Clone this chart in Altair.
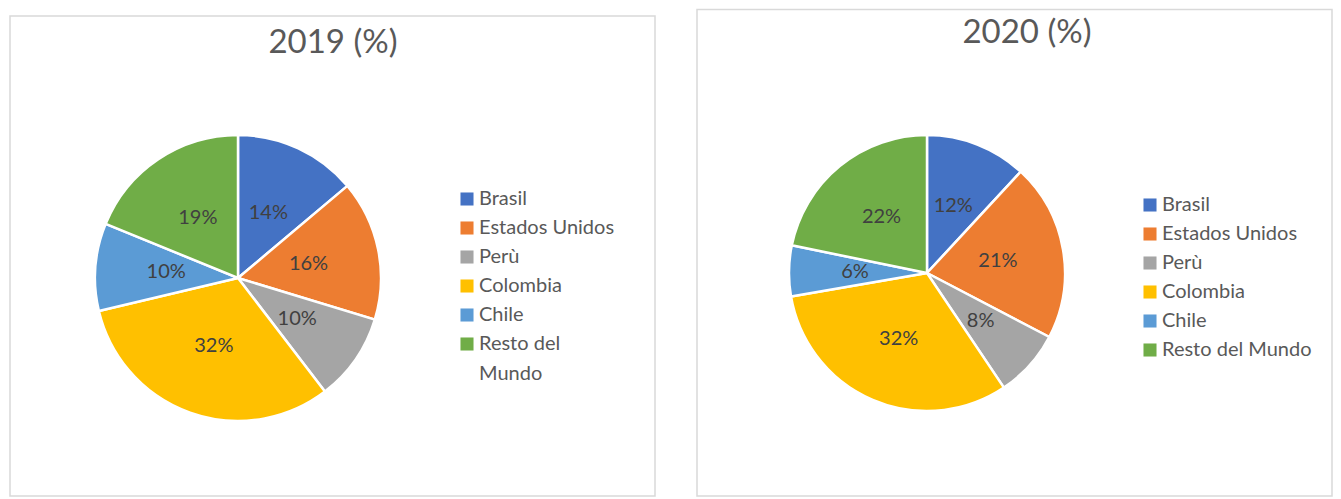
import altair as alt
import pandas as pd

paises = ["Brasil", "Estados Unidos", "Perù", "Colombia", "Chile", "Resto del Mundo"]
v2019 = [14, 16, 10, 32, 10, 19]
v2020 = [12, 21, 8, 32, 6, 22]
colores = ["#4472C4", "#ED7D31", "#A5A5A5", "#FFC000", "#5B9BD5", "#70AD47"]
titulos = ["2019 (%)", "2020 (%)"]

FONT = "Lato"
TXT = "#595959"

def panel(vals, title, W, H, cx, cy, r, lab_r, border, title_xy, leg_xy, wrap):
    df = pd.DataFrame({"Pais": paises, "v": vals, "idx": list(range(len(paises)))})
    base = alt.Chart(df).encode(
        theta=alt.Theta("v:Q", stack=True),
        order=alt.Order("idx:Q"),
    )
    color = alt.Color(
        "Pais:N",
        sort=paises,
        scale=alt.Scale(domain=paises, range=colores),
        legend=alt.Legend(
            title=None,
            orient="none",
            legendX=leg_xy[0],
            legendY=leg_xy[1],
            symbolType="square",
            symbolSize=170,
            symbolStrokeWidth=0,
            labelFont=FONT,
            labelFontSize=20,
            labelColor=TXT,
            labelOffset=2,
            rowPadding=9,
            labelLimit=400,
            labelExpr=("datum.label == 'Resto del Mundo' ? ['Resto del', 'Mundo'] : datum.label") if wrap else "datum.label",
        ),
    )
    arcs = base.mark_arc(radius=r, stroke="white", strokeWidth=2.5).encode(
        color=color, x=alt.value(cx), y=alt.value(cy)
    )
    labels = base.mark_text(
        radius=lab_r, font=FONT, fontSize=20, color="#404040"
    ).encode(
        text=alt.Text("lab:N"), x=alt.value(cx), y=alt.value(cy)
    ).transform_calculate(lab="datum.v + '%'")
    tdf = pd.DataFrame({"t": [title]})
    ttl = alt.Chart(tdf).mark_text(font=FONT, fontSize=33, color=TXT).encode(
        text="t:N", x=alt.value(title_xy[0]), y=alt.value(title_xy[1])
    )
    bdf = pd.DataFrame({"b": [0]})
    box = alt.Chart(bdf).mark_rect(fillOpacity=0, stroke="#d9d9d9", strokeWidth=1.5).encode(
        x=alt.value(border[0]), x2=alt.value(border[1]),
        y=alt.value(border[2]), y2=alt.value(border[3]),
    )
    return alt.layer(box, arcs, labels, ttl).properties(width=W, height=H)

p1 = panel(v2019, titulos[0], 660, 488, 230, 269, 143, 72,
           (2, 647, 7, 487), (325, 34), (449, 180), True)
p2 = panel(v2020, titulos[1], 645, 488, 239, 264, 138, 72,
           (9, 644, 0.5, 487), (339, 24), (452, 186), False)

chart = alt.hconcat(p1, p2, spacing=20).resolve_scale(color="independent").resolve_legend(
    color="independent"
).properties(padding=0).configure(
    style={"guide-label": {"lineHeight": 30}}
).configure_view(stroke=None)

chart.save("out.html", embed_options={"renderer": "svg", "actions": False})
